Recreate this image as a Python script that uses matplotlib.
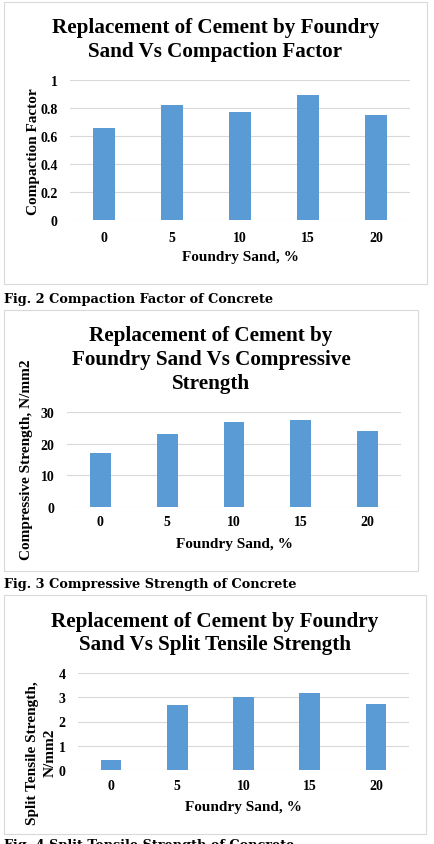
import matplotlib
matplotlib.use("Agg")
import matplotlib.pyplot as plt
from matplotlib.patches import Rectangle

categories = ["0", "5", "10", "15", "20"]
compaction = [0.66, 0.82, 0.77, 0.89, 0.75]
compressive = [17.1, 23.0, 26.7, 27.4, 24.0]
split_tensile = [0.41, 2.66, 3.03, 3.17, 2.74]

W, H = 434, 845
fig = plt.figure(figsize=(W / 100, H / 100), dpi=100)
fig.patch.set_facecolor("white")

SERIF = "Liberation Serif"
CAP = "DejaVu Serif"
BAR = "#5B9BD5"
GRID = "#D9D9D9"


def fx(x):
    return x / W


def fy(y):
    return 1 - y / H


def border(x0, y0, x1, y1):
    fig.patches.append(Rectangle((fx(x0), fy(y1)), fx(x1) - fx(x0), fy(y0) - fy(y1),
                                 transform=fig.transFigure, fill=False,
                                 edgecolor=GRID, linewidth=0.8))


def panel(box, left, right, top, bottom, values, ymax, ystep, yfmt, title_lines, title_y,
          ylabel, ylabel_x, ylabel_y, xtick_y, xlabel_y):
    border(*box)
    ax = fig.add_axes([fx(left), fy(bottom), fx(right) - fx(left), fy(top) - fy(bottom)])
    xs = list(range(len(categories)))
    ax.bar(xs, values, width=0.31, color=BAR, zorder=3)
    ax.set_xlim(-0.5, len(categories) - 0.5)
    ax.set_ylim(0, ymax)
    ticks = [i * ystep for i in range(int(round(ymax / ystep)) + 1)]
    ax.set_yticks(ticks)
    ax.set_yticklabels([yfmt(t) for t in ticks], fontfamily=SERIF, fontweight="bold", fontsize=10)
    ax.set_xticks(xs)
    ax.set_xticklabels([])
    for s in ax.spines.values():
        s.set_visible(False)
    ax.tick_params(length=0, pad=9)
    ax.yaxis.grid(True, color=GRID, linewidth=0.8, zorder=0)
    ax.set_axisbelow(True)
    ax.set_facecolor("none")
    for i, c in enumerate(categories):
        xpix = left + (right - left) * (i + 0.5) / len(categories)
        fig.text(fx(xpix), fy(xtick_y), c, ha="center", va="center",
                 fontfamily=SERIF, fontweight="bold", fontsize=10)
    cx = (box[0] + box[2]) / 2
    for i, line in enumerate(title_lines):
        fig.text(fx(cx), fy(title_y[i]), line, ha="center", va="center",
                 fontfamily=SERIF, fontweight="bold", fontsize=15.2)
    fig.text(fx((left + right) / 2), fy(xlabel_y), "Foundry Sand, %", ha="center", va="center",
             fontfamily=SERIF, fontweight="bold", fontsize=11)
    fig.text(fx(ylabel_x), fy(ylabel_y), ylabel, ha="center", va="center", rotation=90,
             fontfamily=SERIF, fontweight="bold", fontsize=11, linespacing=1.45)
    return ax


def fmt_dec(t):
    if abs(t) < 1e-9:
        return "0"
    if abs(t - round(t)) < 1e-9:
        return str(int(round(t)))
    return f"{t:.1f}"


def fmt_int(t):
    return str(int(round(t)))


def caption(y, text):
    fig.text(fx(4), fy(y), text, ha="left", va="center",
             fontfamily=CAP, fontweight="bold", fontsize=9.3)


# Panel 1
panel((4, 3, 427, 285), 70, 410, 81, 221, compaction, 1.0, 0.2, fmt_dec,
      ["Replacement of Cement by Foundry", "Sand Vs Compaction Factor"], [28, 52],
      "Compaction Factor", 33, 152, 238, 258)
caption(299, "Fig. 2 Compaction Factor of Concrete")

# Panel 2
panel((4, 311, 418, 572), 67, 401, 413, 508, compressive, 30, 10, fmt_int,
      ["Replacement of Cement by", "Foundry Sand Vs Compressive", "Strength"], [336, 360, 384],
      "Compressive Strength, N/mm2", 27, 460, 523, 545)
caption(585, "Fig. 3 Compressive Strength of Concrete")

# Panel 3
panel((4, 596, 426, 835), 78, 409, 674, 771, split_tensile, 4, 1, fmt_int,
      ["Replacement of Cement by Foundry", "Sand Vs Split Tensile Strength"], [622, 645],
      "Split Tensile Strength,\nN/mm2", 41, 753, 787, 808)
caption(846, "Fig. 4 Split Tensile Strength of Concrete")

fig.savefig("out.png", dpi=100, facecolor="white")
